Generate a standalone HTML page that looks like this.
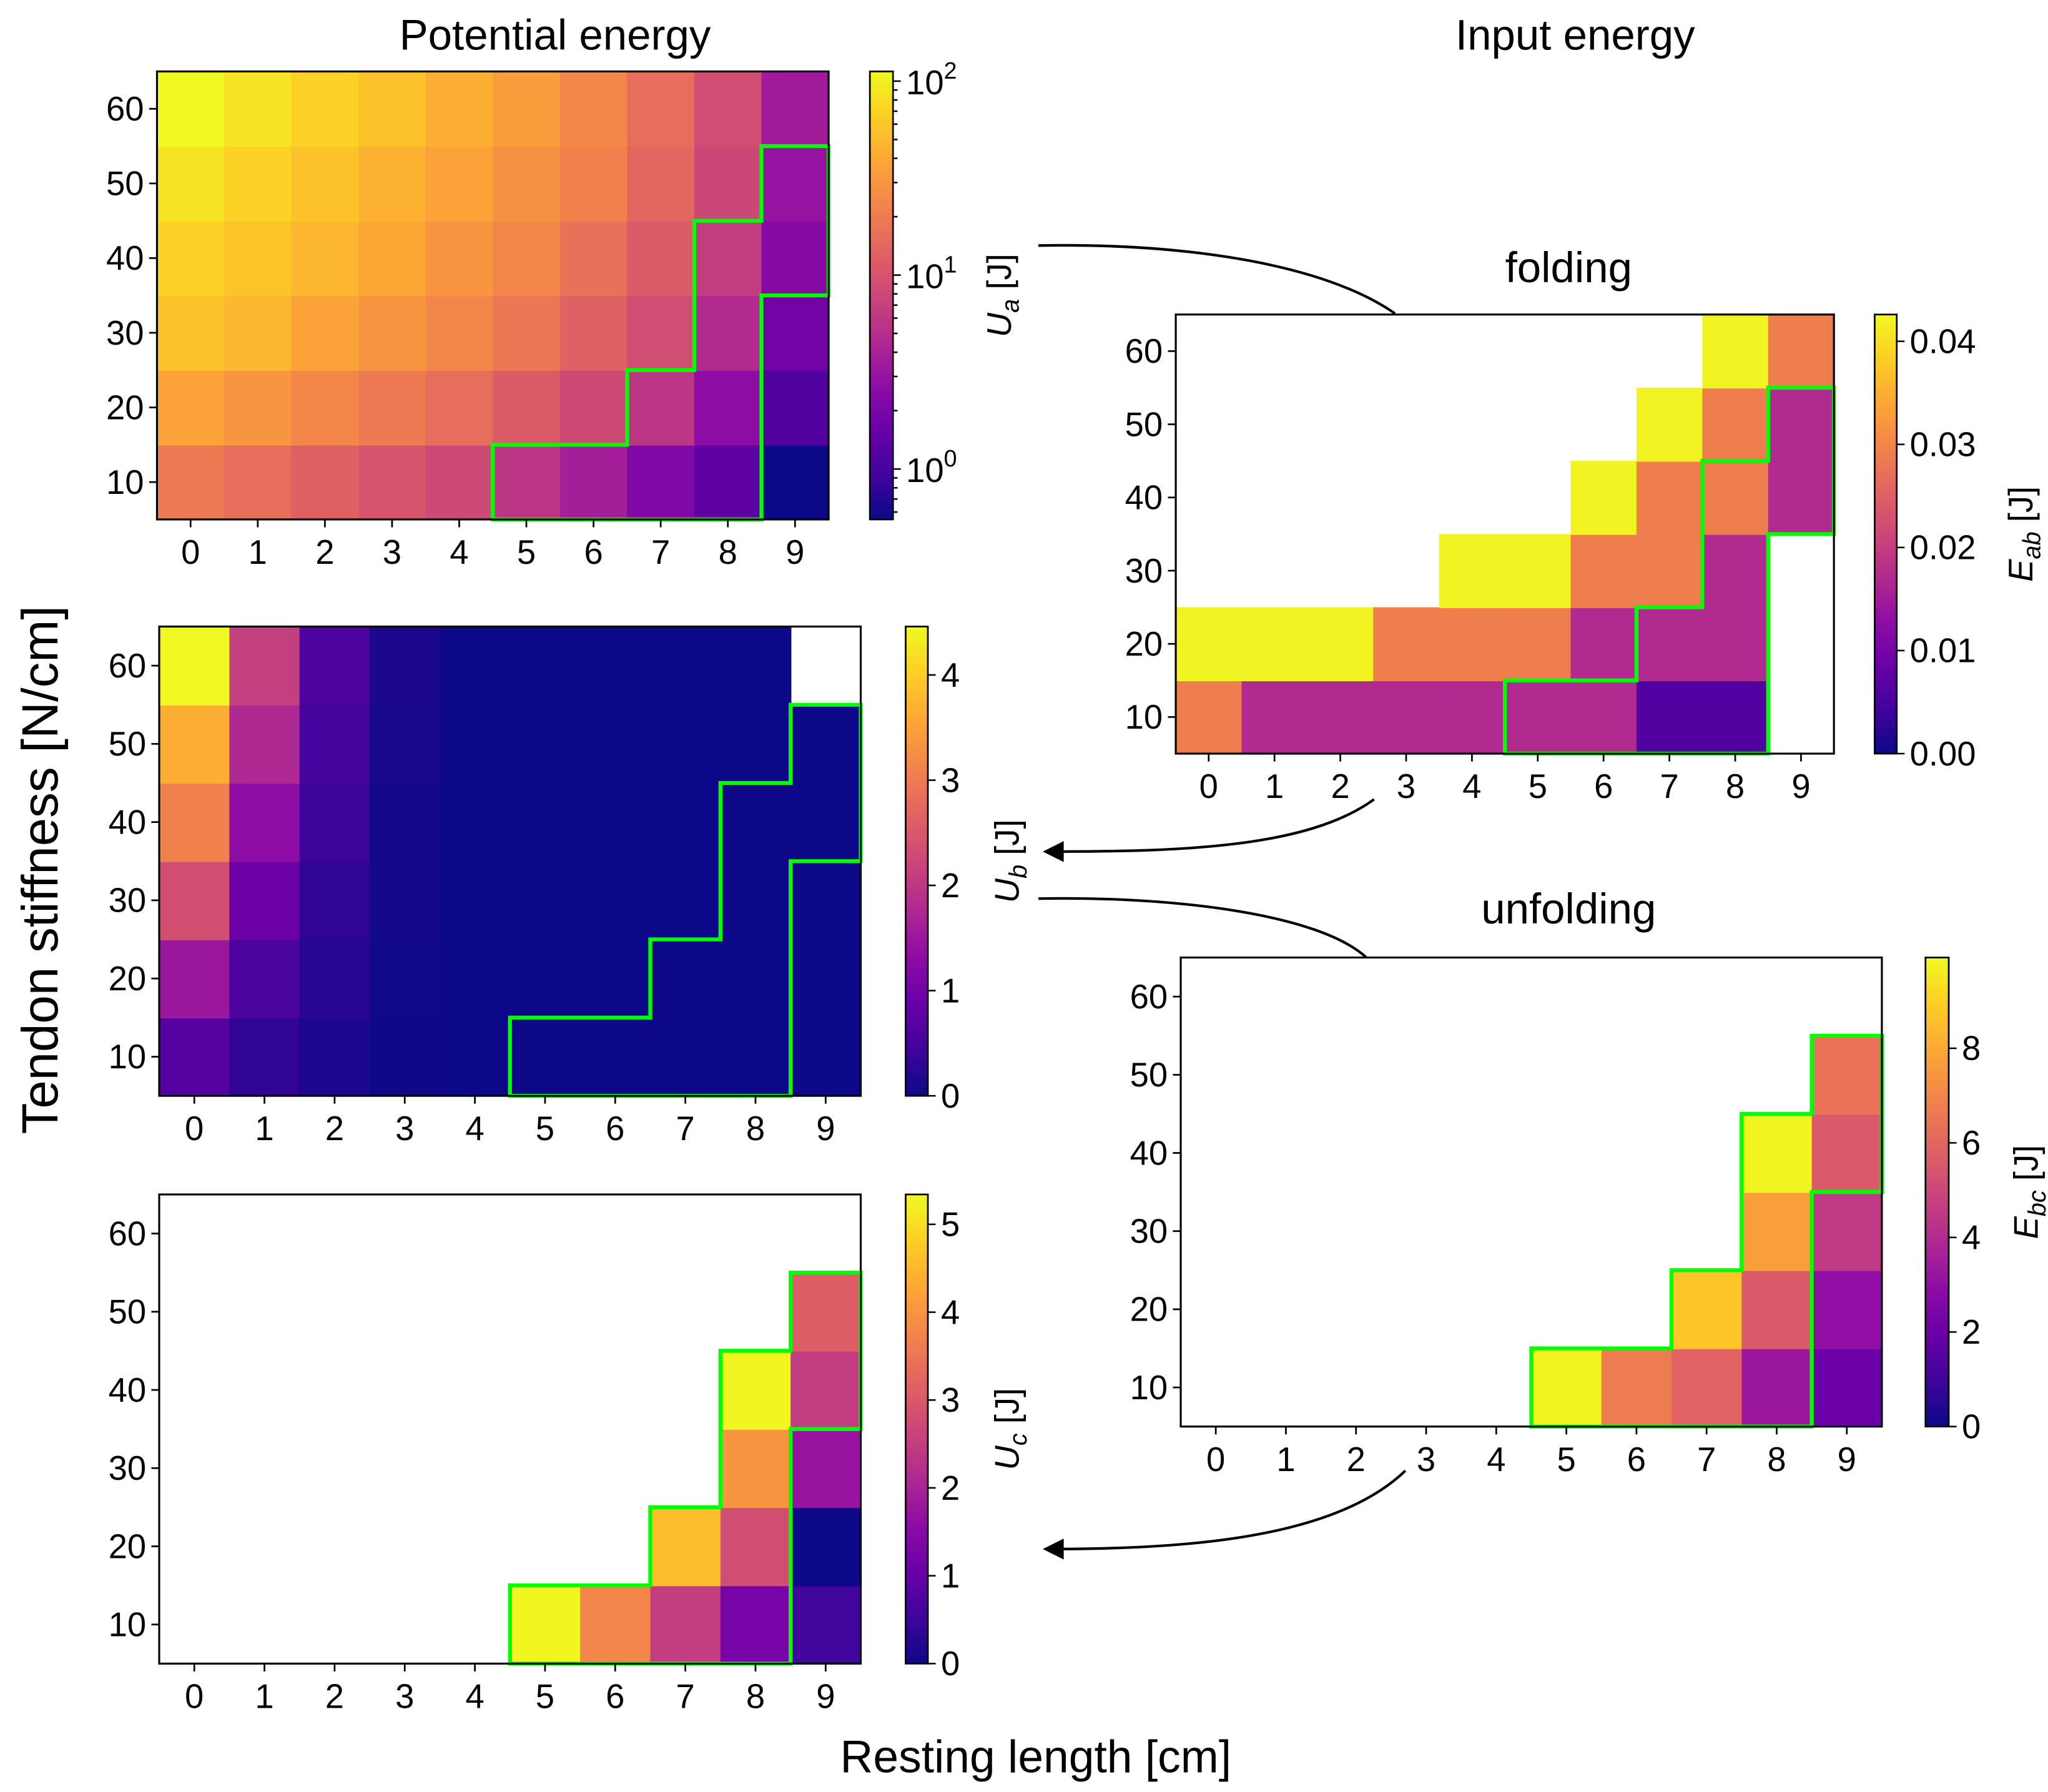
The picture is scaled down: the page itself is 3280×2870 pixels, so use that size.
<!DOCTYPE html>
<html><head><meta charset="utf-8"><style>
html,body{margin:0;padding:0;background:#fff}
svg{display:block}
text{font-family:"Liberation Sans","DejaVu Sans",sans-serif;fill:#000}
</style></head><body>
<svg id="fig" xmlns="http://www.w3.org/2000/svg" width="3280" height="2870" viewBox="0 0 1568 1372">
<defs>
<linearGradient id="plasmaGrad" x1="0" y1="1" x2="0" y2="0">
<stop offset="0" stop-color="#0d0887"/><stop offset="0.1" stop-color="#41049d"/><stop offset="0.2" stop-color="#6a00a8"/><stop offset="0.3" stop-color="#8f0da4"/><stop offset="0.4" stop-color="#b12a90"/><stop offset="0.5" stop-color="#cc4778"/><stop offset="0.6" stop-color="#e16462"/><stop offset="0.7" stop-color="#f2844b"/><stop offset="0.8" stop-color="#fca636"/><stop offset="0.9" stop-color="#fcce25"/><stop offset="1" stop-color="#f0f921"/>
</linearGradient>
<marker id="arrowHead" viewBox="0 0 10 10" refX="9" refY="5" markerWidth="20" markerHeight="16" orient="auto-start-reverse" markerUnits="userSpaceOnUse"><path d="M0,0 L10,5 L0,10 z" fill="#000"/></marker>
</defs>
<text x="425" y="38" font-size="33" text-anchor="middle">Potential energy</text>
<text x="1206" y="38" font-size="33" text-anchor="middle">Input energy</text>
<text x="1201" y="216" font-size="33" text-anchor="middle">folding</text>
<text x="1201" y="707" font-size="33" text-anchor="middle">unfolding</text>
<text transform="translate(44,666) rotate(-90)" font-size="39" text-anchor="middle">Tendon stiffness [N/cm]</text>
<text x="793" y="1357" font-size="35" text-anchor="middle">Resting length [cm]</text>
<g><path d="M795,188 C900,186 1010,200 1068,240" fill="none" stroke="#000" stroke-width="2"/></g>
<g><path d="M1052,612 C1000,650 900,652 800,652" fill="none" stroke="#000" stroke-width="2" marker-end="url(#arrowHead)"/></g>
<g><path d="M795,688 C900,686 1010,700 1046,733" fill="none" stroke="#000" stroke-width="2"/></g>
<g><path d="M1076,1126 C1020,1180 900,1186 800,1186" fill="none" stroke="#000" stroke-width="2" marker-end="url(#arrowHead)"/></g>
<g id="panels"></g>
</svg>
<script>
const restLengths = [0,1,2,3,4,5,6,7,8,9];
const stiffness = [10,20,30,40,50,60];
const potentialA = [
 [19.4,15.7,12.7,10.2,8.3,5.7,3.7,2.2,1.36,0.55],
 [36.7,29.7,24,19.4,15.7,11.4,8.3,5.7,2.6,1.16],
 [56,48,36.7,29.7,24,18.4,12.7,8.7,4.6,1.8],
 [69.5,58,48,38.7,29.7,24,16.5,11.4,6.4,2.3],
 [86,69.5,56,45,36.7,28,21.6,14.1,7.9,3.0],
 [112,86,69.5,56,43,33,24,15.7,8.7,3.5]
];
const storedB = [
 [0.67,0.3,0.15,0.01,0,0,0,0,0,0],
 [1.5,0.55,0.22,0.03,0,0,0,0,0,0],
 [2.36,0.9,0.3,0.05,0,0,0,0,0,0],
 [3.07,1.3,0.4,0.07,0,0,0,0,0,0],
 [3.65,1.75,0.5,0.1,0,0,0,0,0,0],
 [4.45,2.1,0.58,0.13,0,0,0,0,0,null]
];
const storedC = [
 [null,null,null,null,null,5.3,3.77,2.5,1.24,0.54],
 [null,null,null,null,null,null,null,4.6,2.8,0.0],
 [null,null,null,null,null,null,null,null,4.0,1.72],
 [null,null,null,null,null,null,null,null,5.3,2.5],
 [null,null,null,null,null,null,null,null,null,3.1],
 [null,null,null,null,null,null,null,null,null,null]
];
const foldingD = [
 [0.029,0.017,0.017,0.017,0.017,0.017,0.017,0.006,0.006,null],
 [0.042,0.042,0.042,0.029,0.029,0.029,0.017,0.017,0.017,null],
 [null,null,null,null,0.042,0.042,0.029,0.029,0.017,null],
 [null,null,null,null,null,null,0.042,0.029,0.029,0.017],
 [null,null,null,null,null,null,null,0.042,0.029,0.017],
 [null,null,null,null,null,null,null,null,0.042,0.029]
];
const unfoldingE = [
 [null,null,null,null,null,9.8,6.7,5.9,3.3,2.0],
 [null,null,null,null,null,null,null,8.7,5.6,3.0],
 [null,null,null,null,null,null,null,null,7.7,4.5],
 [null,null,null,null,null,null,null,null,9.8,5.6],
 [null,null,null,null,null,null,null,null,null,6.4],
 [null,null,null,null,null,null,null,null,null,null]
];
const boundary = [[4.5,5],[4.5,15],[6.5,15],[6.5,25],[7.5,25],[7.5,45],[8.5,45],[8.5,55],[9.5,55],[9.5,35],[8.5,35],[8.5,5]];
const ticksB = [0,1,2,3,4];
const ticksC = [0,1,2,3,4,5];
const ticksD = [0,0.01,0.02,0.03,0.04];
const ticksDLabels = ["0.00","0.01","0.02","0.03","0.04"];
const ticksE = [0,2,4,6,8];
const majorA = [0,1,2];

const NS="http://www.w3.org/2000/svg";
const root=document.getElementById('panels');
const stops=["#0d0887","#41049d","#6a00a8","#8f0da4","#b12a90","#cc4778","#e16462","#f2844b","#fca636","#fcce25","#f0f921"];
function hex(h){return [1,3,5].map(i=>parseInt(h.substr(i,2),16));}
function plasma(t){t=Math.max(0,Math.min(1,t));const s=t*10;const i=Math.min(9,Math.floor(s));const f=s-i;const a=hex(stops[i]),b=hex(stops[i+1]);return 'rgb('+a.map((v,k)=>Math.round(v+(b[k]-v)*f)).join(',')+')';}
function mk(tag,attrs,parent){const e=document.createElementNS(NS,tag);for(const k in attrs)e.setAttribute(k,attrs[k]);(parent||root).appendChild(e);return e;}

function panel(p){
  const g=mk('g',{});
  
  
  const xs=v=>p.x0+(v+0.5)/10*(p.x1-p.x0);
  const ys=v=>p.y1-(v-5)/60*(p.y1-p.y0);
  const norm=v=>p.log?(Math.log10(v)-p.lmin)/(p.lmax-p.lmin):(v-p.vmin)/(p.vmax-p.vmin);
  const cellW=(p.x1-p.x0)/10, cellH=(p.y1-p.y0)/6;
  p.data.forEach((row,ri)=>row.forEach((v,ci)=>{
    if(v===null)return;
    const r=mk('rect',{x:xs(restLengths[ci])-cellW/2,y:ys(stiffness[ri])-cellH/2,width:cellW+0.6,height:cellH+0.6,fill:plasma(norm(v))},g);
    
    
  }));
  const poly=mk('polygon',{fill:'none',stroke:'#00ff00','stroke-width':3},g);
  poly.setAttribute('points',boundary.map(q=>(p.x0+(q[0]+0.5)/10*(p.x1-p.x0))+','+ys(q[1])).join(' '));
  
  
  const fr=mk('rect',{x:p.x0,y:p.y0,width:p.x1-p.x0,height:p.y1-p.y0,fill:'none',stroke:'#000','stroke-width':1.5},g);
  
  
  restLengths.forEach(v=>{
    const x=xs(v);
    mk('line',{x1:x,y1:p.y1,x2:x,y2:p.y1+6,stroke:'#000','stroke-width':1.3},g);
    const t=mk('text',{x:x,y:p.y1+34,'font-size':26,'text-anchor':'middle'},g);t.textContent=v;
    
    
  });
  stiffness.forEach(v=>{
    const y=ys(v);
    mk('line',{x1:p.x0,y1:y,x2:p.x0-6,y2:y,stroke:'#000','stroke-width':1.3},g);
    const t=mk('text',{x:p.x0-10,y:y+9,'font-size':26,'text-anchor':'end'},g);t.textContent=v;
    
    
  });
  const cb=mk('rect',{x:p.cx0,y:p.y0,width:p.cx1-p.cx0,height:p.y1-p.y0,fill:'url(#plasmaGrad)',stroke:'#000','stroke-width':1.3},g);
  
  
  const cy=v=>p.y1-norm(v)*(p.y1-p.y0);
  if(p.log){
    for(let d=-1;d<=2;d++)for(let m=1;m<10;m++){
      const lv=d+Math.log10(m); if(lv<p.lmin||lv>p.lmax)continue;
      const y=p.y1-(lv-p.lmin)/(p.lmax-p.lmin)*(p.y1-p.y0);
      mk('line',{x1:p.cx1,y1:y,x2:p.cx1+(m===1?6:3.5),y2:y,stroke:'#000','stroke-width':1.2},g);
    }
    majorA.forEach(d=>{
      const y=p.y1-(d-p.lmin)/(p.lmax-p.lmin)*(p.y1-p.y0);
      const t=mk('text',{x:p.cx1+10,y:y+10,'font-size':26},g);
      
      
      t.textContent='10';
      const s=mk('tspan',{dy:-12,'font-size':18},t);s.textContent=d;
    });
  } else {
    p.ticks.forEach((v,i)=>{
      const y=cy(v);
      mk('line',{x1:p.cx1,y1:y,x2:p.cx1+6,y2:y,stroke:'#000','stroke-width':1.2},g);
      const t=mk('text',{x:p.cx1+10,y:y+9,'font-size':26},g);
      t.textContent=p.tickLabels?p.tickLabels[i]:v;
      
      
    });
  }
  const lab=mk('text',{transform:'translate('+p.lx+','+((p.y0+p.y1)/2)+') rotate(-90)','font-size':26,'text-anchor':'middle'},g);
  
  
  const it=mk('tspan',{'font-style':'italic'},lab);it.textContent=p.sym;
  const sub=mk('tspan',{'font-style':'italic','font-size':19,dy:6},lab);sub.textContent=p.sub;
  const un=mk('tspan',{dy:-6},lab);un.textContent=' [J]';
}

panel({name:'potential-energy-heatmap',data:potentialA,x0:120.2,x1:634.4,y0:54.7,y1:397.7,cx0:666,cx1:683.7,log:true,lmin:-0.26,lmax:2.05,lx:774,sym:'U',sub:'a'});
panel({name:'stored-energy-b-heatmap',data:storedB,x0:121.9,x1:659,y0:479.7,y1:839,cx0:693.4,cx1:710.4,vmin:0,vmax:4.46,ticks:ticksB,lx:780,sym:'U',sub:'b'});
panel({name:'stored-energy-c-heatmap',data:storedC,x0:121.9,x1:659,y0:914.5,y1:1273.7,cx0:693.4,cx1:710.4,vmin:0,vmax:5.34,ticks:ticksC,lx:780,sym:'U',sub:'c'});
panel({name:'folding-input-energy-heatmap',data:foldingD,x0:900.2,x1:1404.1,y0:240.8,y1:577,cx0:1435.3,cx1:1452.2,vmin:0,vmax:0.0426,ticks:ticksD,tickLabels:ticksDLabels,lx:1556,sym:'E',sub:'ab'});
panel({name:'unfolding-input-energy-heatmap',data:unfoldingE,x0:904,x1:1440.8,y0:733.1,y1:1092.2,cx0:1474.2,cx1:1492,vmin:0,vmax:9.92,ticks:ticksE,lx:1560,sym:'E',sub:'bc'});
</script>
</body></html>
